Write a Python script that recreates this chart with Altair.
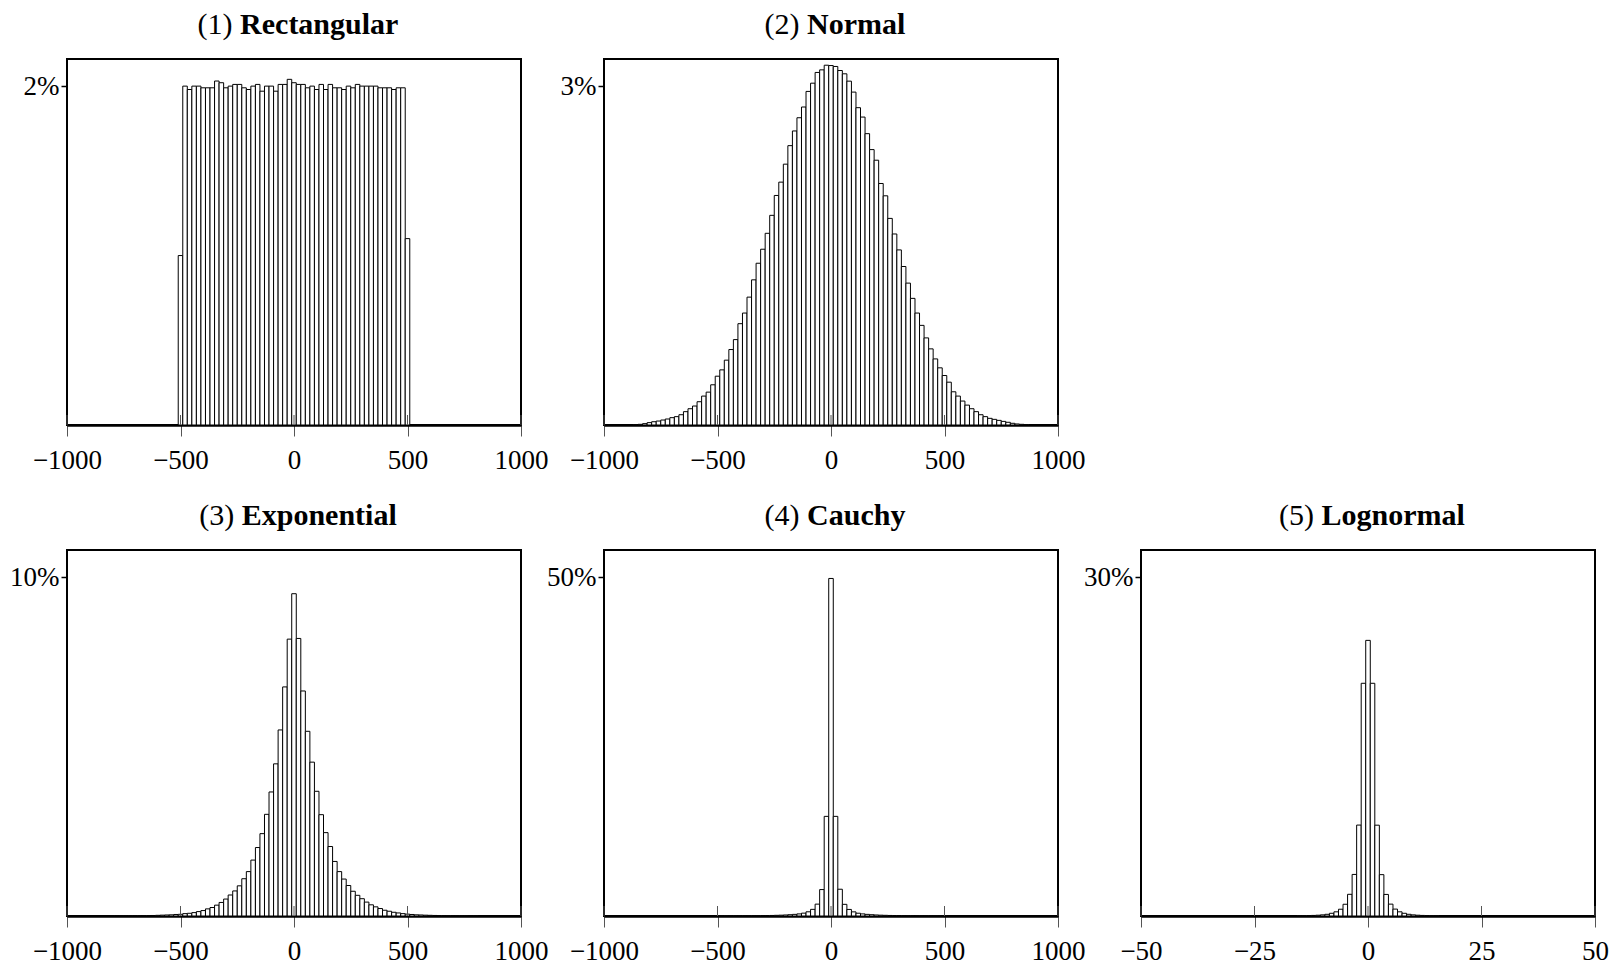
import altair as alt
import pandas as pd

# ---------------- data ----------------
TITLE_NUMS = ["(1)", "(2)", "(3)", "(4)", "(5)"]
TITLE_NAMES = ["Rectangular", "Normal", "Exponential", "Cauchy", "Lognormal"]

BIN_WIDTHS = [20, 20, 20, 20, 1]
FIRST_CENTRES = [-500, -860, -800, -500, -15]

RECT_PCT = [1.00, 2.00, 1.98, 2.00, 2.00, 1.99, 1.99, 1.99, 2.03, 2.02, 1.99, 2.00, 2.01,
            2.01, 1.99, 1.98, 2.00, 2.01, 1.97, 2.00, 2.00, 1.97, 2.01, 2.01, 2.04, 2.02,
            2.01, 2.01, 1.99, 2.00, 1.98, 2.01, 1.98, 2.01, 1.99, 1.99, 1.98, 2.00, 1.99,
            2.01, 2.00, 2.00, 2.00, 2.00, 1.99, 1.99, 1.99, 1.98, 1.99, 1.99, 1.10]

NORMAL_PCT = [0.003, 0.006, 0.012, 0.021, 0.029, 0.035, 0.044, 0.053, 0.065, 0.074, 0.091,
              0.118, 0.144, 0.168, 0.206, 0.256, 0.291, 0.356, 0.432, 0.488, 0.574, 0.668,
              0.756, 0.897, 0.991, 1.132, 1.285, 1.432, 1.556, 1.697, 1.856, 2.032, 2.150,
              2.309, 2.473, 2.603, 2.720, 2.815, 2.953, 3.026, 3.121, 3.144, 3.185, 3.182,
              3.174, 3.138, 3.109, 3.044, 2.947, 2.809, 2.726, 2.579, 2.438, 2.344, 2.138,
              2.029, 1.829, 1.691, 1.550, 1.403, 1.256, 1.121, 0.991, 0.882, 0.771, 0.674,
              0.585, 0.506, 0.438, 0.379, 0.294, 0.256, 0.212, 0.176, 0.144, 0.118, 0.091,
              0.074, 0.059, 0.050, 0.041, 0.032, 0.024, 0.015, 0.009, 0.006, 0.003]

EXP_PCT = [0.003, 0.003, 0.004, 0.005, 0.006, 0.007, 0.008, 0.010, 0.012, 0.015, 0.020,
           0.025, 0.030, 0.035, 0.045, 0.050, 0.070, 0.080, 0.100, 0.130, 0.160, 0.210,
           0.250, 0.320, 0.400, 0.500, 0.620, 0.740, 0.890, 1.100, 1.310, 1.650, 2.020,
           2.430, 3.000, 3.660, 4.490, 5.490, 6.760, 8.170,
           9.510,
           8.190, 6.640, 5.450, 4.540, 3.680, 2.990, 2.460, 2.050, 1.610, 1.310, 1.090,
           0.900, 0.730, 0.610, 0.510, 0.410, 0.330, 0.270, 0.220, 0.170, 0.140, 0.110,
           0.090, 0.070, 0.055, 0.045, 0.035, 0.030, 0.024, 0.020, 0.016, 0.012, 0.010,
           0.008, 0.007, 0.006, 0.005, 0.004, 0.003, 0.003]

CAUCHY_PCT = [0.02, 0.02, 0.025, 0.025, 0.03, 0.03, 0.035, 0.04, 0.045, 0.05,
              0.06, 0.07, 0.08, 0.10, 0.12, 0.15, 0.19, 0.24, 0.31, 0.42, 0.62, 0.98,
              1.75, 3.90, 14.7,
              49.8,
              14.7, 3.95, 1.72, 0.97, 0.61, 0.41, 0.31, 0.24, 0.19, 0.15, 0.12, 0.10,
              0.08, 0.07, 0.06,
              0.05, 0.045, 0.04, 0.035, 0.03, 0.03, 0.025, 0.025, 0.02, 0.02]

LOGN_PCT = [0.02, 0.025, 0.035, 0.05, 0.07, 0.10, 0.15, 0.24, 0.37, 0.60, 1.04, 1.92,
            3.68, 8.05, 20.6,
            24.4,
            20.6, 8.04, 3.66, 1.91, 1.05, 0.61, 0.37, 0.24, 0.15, 0.10, 0.07, 0.05,
            0.035, 0.025, 0.02]

SERIES = [RECT_PCT, NORMAL_PCT, EXP_PCT, CAUCHY_PCT, LOGN_PCT]
Y_TICKS = [2, 3, 10, 50, 30]
X_TICKS_WIDE = [-1000, -500, 0, 500, 1000]
X_TICKS_NARROW = [-50, -25, 0, 25, 50]
X_TICKS = [X_TICKS_WIDE, X_TICKS_WIDE, X_TICKS_WIDE, X_TICKS_WIDE, X_TICKS_NARROW]

# ---------------- layout / style ----------------
W, H = 454, 366
FONT = "Liberation Serif"
LABEL_SIZE = 27
TITLE_SIZE = 30
TITLE_BASE_Y = -25

REG_EM = {"(": 0.333, ")": 0.333, " ": 0.25}
BOLD_EM = {"R": .722, "e": .444, "c": .444, "t": .333, "a": .5, "n": .556, "g": .5,
           "u": .556, "l": .278, "r": .444, "N": .722, "o": .5, "m": .833, "E": .667,
           "x": .5, "p": .556, "i": .278, "C": .722, "h": .556, "y": .5, "L": .667}


def reg_width(s):
    return sum(REG_EM.get(ch, 0.5) for ch in s) * TITLE_SIZE


def bold_width(s):
    return sum(BOLD_EM.get(ch, 0.55) for ch in s) * TITLE_SIZE


def panel(i):
    vals = SERIES[i]
    bw = BIN_WIDTHS[i]
    centres = [FIRST_CENTRES[i] + k * bw for k in range(len(vals))]
    df = pd.DataFrame({"centre": centres, "pct": vals})
    ticks = X_TICKS[i]
    xdom = [ticks[0], ticks[-1]]
    ymax = Y_TICKS[i] * 1.08

    bars = alt.Chart(df).transform_calculate(
        lo=f"datum.centre - {bw / 2}", hi=f"datum.centre + {bw / 2}"
    ).mark_bar(fill="white", stroke="black", strokeWidth=1).encode(
        x=alt.X("lo:Q", scale=alt.Scale(domain=xdom, nice=False, zero=False),
                axis=alt.Axis(values=ticks, title=None, labelFlush=False,
                              labelOverlap=False, format="d")),
        x2="hi:Q",
        y=alt.Y("pct:Q", scale=alt.Scale(domain=[0, ymax], nice=False),
                axis=alt.Axis(values=[Y_TICKS[i]], title=None,
                              labelExpr="datum.value + '%'")),
        y2=alt.datum(0),
    )

    inner = alt.Chart(pd.DataFrame({"t": ticks})).mark_rule(
        color="#555555", strokeWidth=1
    ).encode(
        x=alt.X("t:Q", scale=alt.Scale(domain=xdom, nice=False, zero=False), title=None),
        y=alt.value(H),
        y2=alt.value(H - 10),
    )

    prefix = TITLE_NUMS[i]
    name = TITLE_NAMES[i]
    total = reg_width(prefix + " ") + bold_width(name)
    x0 = W / 2 - total / 2 + 4

    t_num = alt.Chart(pd.DataFrame({"s": [prefix]})).mark_text(
        align="left", baseline="alphabetic", font=FONT, fontSize=TITLE_SIZE, color="black"
    ).encode(text="s:N", x=alt.value(x0), y=alt.value(TITLE_BASE_Y))

    t_name = alt.Chart(pd.DataFrame({"s": [name]})).mark_text(
        align="left", baseline="alphabetic", font=FONT, fontSize=TITLE_SIZE,
        fontWeight="bold", color="black"
    ).encode(text="s:N", x=alt.value(x0 + reg_width(prefix + " ")), y=alt.value(TITLE_BASE_Y))

    return alt.layer(bars, inner, t_num, t_name).properties(width=W, height=H)


blank = alt.Chart(pd.DataFrame({"a": [0]}), view=alt.ViewBackground(strokeOpacity=0)).mark_point(
    opacity=0
).encode(
    x=alt.X("a:Q", axis=None), y=alt.Y("a:Q", axis=None)
).properties(width=W, height=H)

chart = alt.concat(
    panel(0), panel(1), blank, panel(2), panel(3), panel(4),
    columns=3, spacing=alt.RowColnumber(row=125, column=83), bounds="flush"
).properties(
    padding={"left": 0, "top": 1, "right": 0, "bottom": 0}, background="white"
).configure_view(
    stroke="black", strokeWidth=2
).configure_axis(
    labelFont=FONT, labelFontSize=LABEL_SIZE, labelColor="black", grid=False
).configure_axisX(
    domainColor="black", domainWidth=2.5, tickColor="#555555", tickWidth=1,
    tickSize=11, labelPadding=11
).configure_axisY(
    domain=False, tickColor="black", tickWidth=1.5, tickSize=6, labelPadding=2
)

chart.save("out.html", embed_options={"renderer": "svg", "actions": False})
